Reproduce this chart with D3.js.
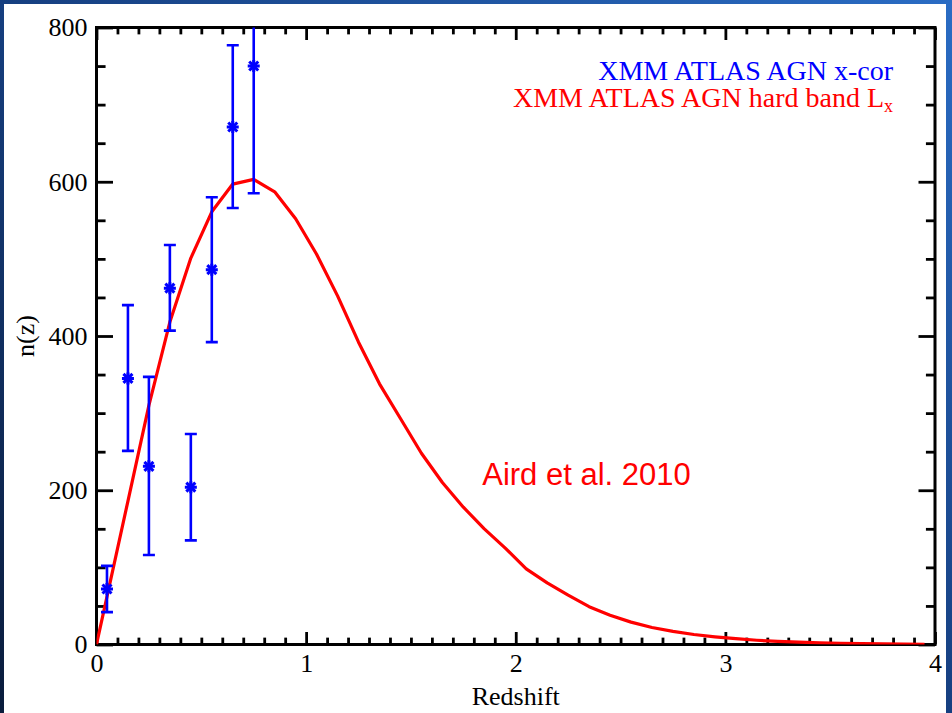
<!DOCTYPE html>
<html>
<head>
<meta charset="utf-8">
<script src="https://cdn.jsdelivr.net/npm/d3@7"></script>
<style>
  body { margin: 0; background: #0d2550; }
  svg { display: block; }
</style>
</head>
<body>
<div id="chart"></div>
<script>
// n(z) of XMM ATLAS AGN vs Aird et al. 2010 model

// blue points with error bars
let obsZ = [0.05, 0.15, 0.25, 0.35, 0.45, 0.55, 0.65, 0.75];
let obsN = [72, 345, 231, 462, 204, 486, 671, 750];
let obsLo = [42, 251, 116, 407, 135, 392, 566, 585];
let obsHi = [102, 440, 347, 518, 273, 580, 777, 915];

// red model curve
let modelZ = [0, 0.05, 0.15, 0.25, 0.35, 0.45, 0.55, 0.65, 0.75, 0.85, 0.95,
  1.05, 1.15, 1.25, 1.35, 1.45, 1.55, 1.65, 1.75, 1.85, 1.95,
  2.05, 2.15, 2.25, 2.35, 2.45, 2.55, 2.65, 2.75, 2.85, 2.95,
  3.05, 3.15, 3.25, 3.35, 3.45, 3.55, 3.65, 3.75, 3.85, 3.95];
let modelN = [0, 62, 186, 310, 418, 501, 561, 597, 603, 587, 552,
  506, 452, 392, 338, 293, 248, 210, 178, 150, 125,
  98, 80, 64, 49, 38, 29, 22, 17, 13, 10,
  7.5, 5.5, 4, 3, 2.2, 1.6, 1.2, 0.8, 0.5, 0.3];

let xMajor = [0, 1, 2, 3, 4];
let yMajor = [0, 200, 400, 600, 800];
let legendLabels = ["XMM ATLAS AGN x-cor", "XMM ATLAS AGN hard band L"];

let svgWidth = 952;
let svgHeight = 713;
let pLeft = 96.5, pRight = 935, pTop = 27.5, pBottom = 644.5;
let blue = "#0000ff";
let red = "#ff0000";
let serif = "'Liberation Serif', 'Times New Roman', serif";

let svg = d3.select("#chart")
  .append("svg")
  .attr("width", svgWidth)
  .attr("height", svgHeight);

// slide background
let defs = svg.append("defs");
let grad = defs.append("linearGradient")
  .attr("id", "bg").attr("x1", 0).attr("y1", 1).attr("x2", 1).attr("y2", 0);
grad.append("stop").attr("offset", 0).attr("stop-color", "#0a1c3c");
grad.append("stop").attr("offset", 0.5).attr("stop-color", "#163f80");
grad.append("stop").attr("offset", 1).attr("stop-color", "#2a6cc4");

svg.append("rect").attr("width", svgWidth).attr("height", svgHeight).attr("fill", "url(#bg)");
svg.append("rect")
  .attr("x", 4).attr("y", 4)
  .attr("width", 942).attr("height", svgHeight)
  .attr("fill", "white");

defs.append("clipPath").attr("id", "plotClip")
  .append("rect")
  .attr("x", pLeft).attr("y", pTop)
  .attr("width", pRight - pLeft).attr("height", pBottom - pTop);

let xScale = d3.scaleLinear().domain([0, 4]).range([pLeft, pRight]);
let yScale = d3.scaleLinear().domain([0, 800]).range([pBottom, pTop]);

// every tick, majors and minors together
let xTicks = d3.range(0, 41).map(d => d / 10);
let yTicks = d3.range(0, 801, 50);
let isXMajor = d => xMajor.some(m => Math.abs(d - m) < 1e-6);
let isYMajor = d => yMajor.includes(d);

let xTick = 12.5, yTick = 16.5;

// ticks point inward; minors get half length
function styleAxis(g, isMajor, len, horizontal, sign) {
  g.select(".domain").remove();
  g.selectAll(".tick line")
    .attr("stroke", "#000")
    .attr("stroke-width", 2.8)
    .attr("x1", 0).attr("y1", 0)
    .attr(horizontal ? "y2" : "x2", 0)
    .attr(horizontal ? "x2" : "y2", d => sign * (isMajor(d) ? len : len * 0.55));
  g.selectAll("text")
    .attr("fill", "black")
    .style("font-family", serif)
    .style("font-size", "26px");
}

let xFmt = d => isXMajor(d) ? d3.format("d")(d) : "";
let yFmt = d => isYMajor(d) ? d3.format("d")(d) : "";

// bottom axis
svg.append("g")
  .attr("transform", `translate(0,${pBottom})`)
  .call(d3.axisBottom(xScale).tickValues(xTicks).tickSize(-xTick).tickPadding(9).tickFormat(xFmt))
  .call(g => styleAxis(g, isXMajor, xTick, false, -1));

// top axis
svg.append("g")
  .attr("transform", `translate(0,${pTop})`)
  .call(d3.axisTop(xScale).tickValues(xTicks).tickSize(-xTick).tickFormat(""))
  .call(g => styleAxis(g, isXMajor, xTick, false, 1));

// left axis
svg.append("g")
  .attr("transform", `translate(${pLeft},0)`)
  .call(d3.axisLeft(yScale).tickValues(yTicks).tickSize(-yTick).tickPadding(9).tickFormat(yFmt))
  .call(g => styleAxis(g, isYMajor, yTick, true, 1));

// right axis
svg.append("g")
  .attr("transform", `translate(${pRight},0)`)
  .call(d3.axisRight(yScale).tickValues(yTicks).tickSize(-yTick).tickFormat(""))
  .call(g => styleAxis(g, isYMajor, yTick, true, -1));

// plot frame
svg.append("rect")
  .attr("x", pLeft).attr("y", pTop)
  .attr("width", pRight - pLeft).attr("height", pBottom - pTop)
  .attr("fill", "none")
  .attr("stroke", "black")
  .attr("stroke-width", 3);

let plot = svg.append("g").attr("clip-path", "url(#plotClip)");

// model curve
let line = d3.line()
  .x((d, i) => xScale(modelZ[i]))
  .y(d => yScale(d));

plot.append("path")
  .datum(modelN)
  .attr("d", line)
  .attr("fill", "none")
  .attr("stroke", red)
  .attr("stroke-width", 3.2)
  .attr("stroke-linejoin", "round");

// error bars
let bars = plot.selectAll(".err")
  .data(obsZ)
  .enter()
  .append("g")
  .attr("class", "err")
  .attr("stroke", blue)
  .attr("stroke-width", 2.6);

bars.append("line")
  .attr("x1", d => xScale(d)).attr("x2", d => xScale(d))
  .attr("y1", (d, i) => yScale(obsLo[i]))
  .attr("y2", (d, i) => yScale(obsHi[i]));
bars.append("line")
  .attr("x1", d => xScale(d) - 6).attr("x2", d => xScale(d) + 6)
  .attr("y1", (d, i) => yScale(obsLo[i]))
  .attr("y2", (d, i) => yScale(obsLo[i]));
bars.append("line")
  .attr("x1", d => xScale(d) - 6).attr("x2", d => xScale(d) + 6)
  .attr("y1", (d, i) => yScale(obsHi[i]))
  .attr("y2", (d, i) => yScale(obsHi[i]));

// asterisk markers
let arms = [[0, 6], [6, 0], [4.5, 4.5], [4.5, -4.5]];
bars.each(function(d, i) {
  let g = d3.select(this);
  let cx = xScale(d), cy = yScale(obsN[i]);
  arms.forEach(a => {
    g.append("line")
      .attr("x1", cx - a[0]).attr("y1", cy - a[1])
      .attr("x2", cx + a[0]).attr("y2", cy + a[1])
      .attr("stroke-width", 3);
  });
});

// axis titles
svg.append("text")
  .attr("x", (pLeft + pRight) / 2)
  .attr("y", 705)
  .attr("text-anchor", "middle")
  .style("font-family", serif)
  .style("font-size", "26px")
  .text("Redshift");

svg.append("text")
  .attr("transform", `translate(34,${(pTop + pBottom) / 2}) rotate(-90)`)
  .attr("text-anchor", "middle")
  .style("font-family", serif)
  .style("font-size", "26px")
  .text("n(z)");

// legend
svg.append("text")
  .attr("x", 893).attr("y", 80)
  .attr("text-anchor", "end")
  .attr("fill", blue)
  .style("font-family", serif)
  .style("font-size", "28px")
  .text(legendLabels[0]);

let red2 = svg.append("text")
  .attr("x", 893).attr("y", 107)
  .attr("text-anchor", "end")
  .attr("fill", red)
  .style("font-family", serif)
  .style("font-size", "28px");
red2.append("tspan").text(legendLabels[1]);
red2.append("tspan").attr("dy", 5).style("font-size", "18px").text("x");

// model annotation
svg.append("text")
  .attr("x", xScale(1.84)).attr("y", yScale(207))
  .attr("fill", red)
  .style("font-family", "'Liberation Sans', Arial, sans-serif")
  .style("font-size", "31px")
  .text("Aird et al. 2010");
</script>
</body>
</html>
